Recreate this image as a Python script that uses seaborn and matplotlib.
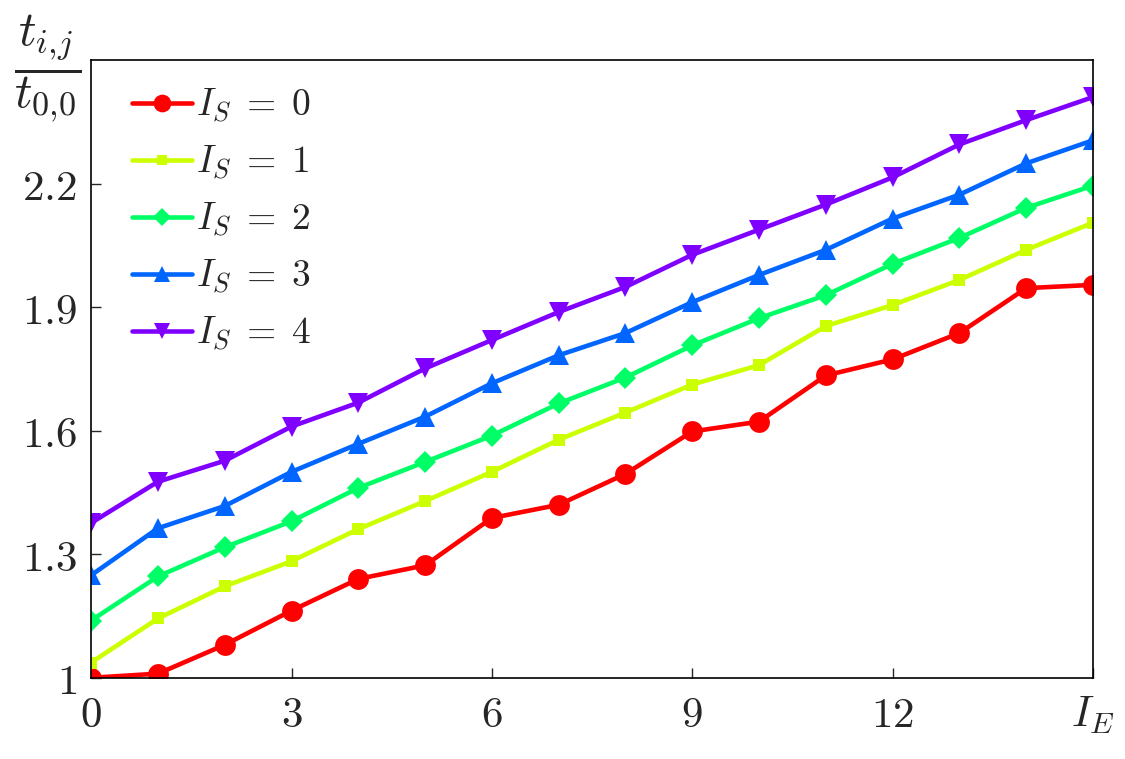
import pandas as pd
import seaborn as sns
import matplotlib.pyplot as plt

ie = list(range(16))
is0 = [1.000, 1.010, 1.080, 1.163, 1.240, 1.273, 1.388, 1.420, 1.495, 1.598, 1.622, 1.734, 1.773, 1.837, 1.946, 1.954]
is1 = [1.037, 1.144, 1.222, 1.283, 1.361, 1.429, 1.500, 1.578, 1.644, 1.712, 1.759, 1.854, 1.905, 1.966, 2.039, 2.105]
is2 = [1.139, 1.246, 1.317, 1.380, 1.461, 1.524, 1.588, 1.666, 1.729, 1.807, 1.873, 1.929, 2.005, 2.068, 2.141, 2.195]
is3 = [1.249, 1.363, 1.417, 1.500, 1.568, 1.634, 1.715, 1.783, 1.837, 1.912, 1.978, 2.039, 2.115, 2.173, 2.249, 2.305]
is4 = [1.376, 1.476, 1.527, 1.610, 1.668, 1.751, 1.820, 1.888, 1.949, 2.027, 2.088, 2.149, 2.215, 2.295, 2.354, 2.410]
series = [is0, is1, is2, is3, is4]
labels = [r'$I_S\;=\;%d$' % i for i in range(5)]
colors = ['#ff0000', '#ccff00', '#00ff66', '#0066ff', '#8000ff']
markers = ['o', 's', 'D', '^', 'v']
msizes = [15, 8.5, 11, 14, 14]

xticks = [0, 3, 6, 9, 12, 15]
xticklabels = ['$0$', '$3$', '$6$', '$9$', '$12$', '$I_E$']
yticks = [1.0, 1.3, 1.6, 1.9, 2.2]
yticklabels = ['$1$', '$1.3$', '$1.6$', '$1.9$', '$2.2$']

rows = []
for lab, vals in zip(labels, series):
    for x, y in zip(ie, vals):
        rows.append({'IE': x, 't': y, 'series': lab})
df = pd.DataFrame(rows)

sns.set_style('ticks')
plt.rcParams['mathtext.fontset'] = 'cm'

fig = plt.figure(figsize=(11.25, 7.59), dpi=100)
ax = fig.add_axes([0.081, 0.107, 0.8906, 0.814])

for lab, c, m, ms in zip(labels, colors, markers, msizes):
    sns.lineplot(data=df[df['series'] == lab], x='IE', y='t', color=c, marker=m,
                 markersize=ms, markeredgewidth=0, linewidth=3.3, label=lab, ax=ax)

ax.set_xlim(0, 15)
ax.set_ylim(1.0, 2.5)
ax.set_xticks(xticks)
ax.set_xticklabels(xticklabels)
ax.set_yticks(yticks)
ax.set_yticklabels(yticklabels)
ax.tick_params(direction='in', length=7, width=1, labelsize=31, top=False, right=False)
ax.tick_params(axis='x', pad=12)
ax.tick_params(axis='y', pad=10)
ax.set_xlabel('')
ax.set_ylabel('')
for s in ax.spines.values():
    s.set_linewidth(1.2)
    s.set_color('black')

# y label drawn as a fraction at the top-left corner
ax.text(-0.043, 0.987, r'$\dfrac{t_{i,\!j}}{t_{0,\!0}}$', transform=ax.transAxes,
        ha='center', va='center', fontsize=35)

ax.legend(loc='upper left', frameon=False, fontsize=27, handlelength=1.6,
          handletextpad=0.1, labelspacing=0.5, borderaxespad=0.3,
          bbox_to_anchor=(0.015, 1.0), markerscale=0.85)

fig.savefig('out.png', dpi=100)
